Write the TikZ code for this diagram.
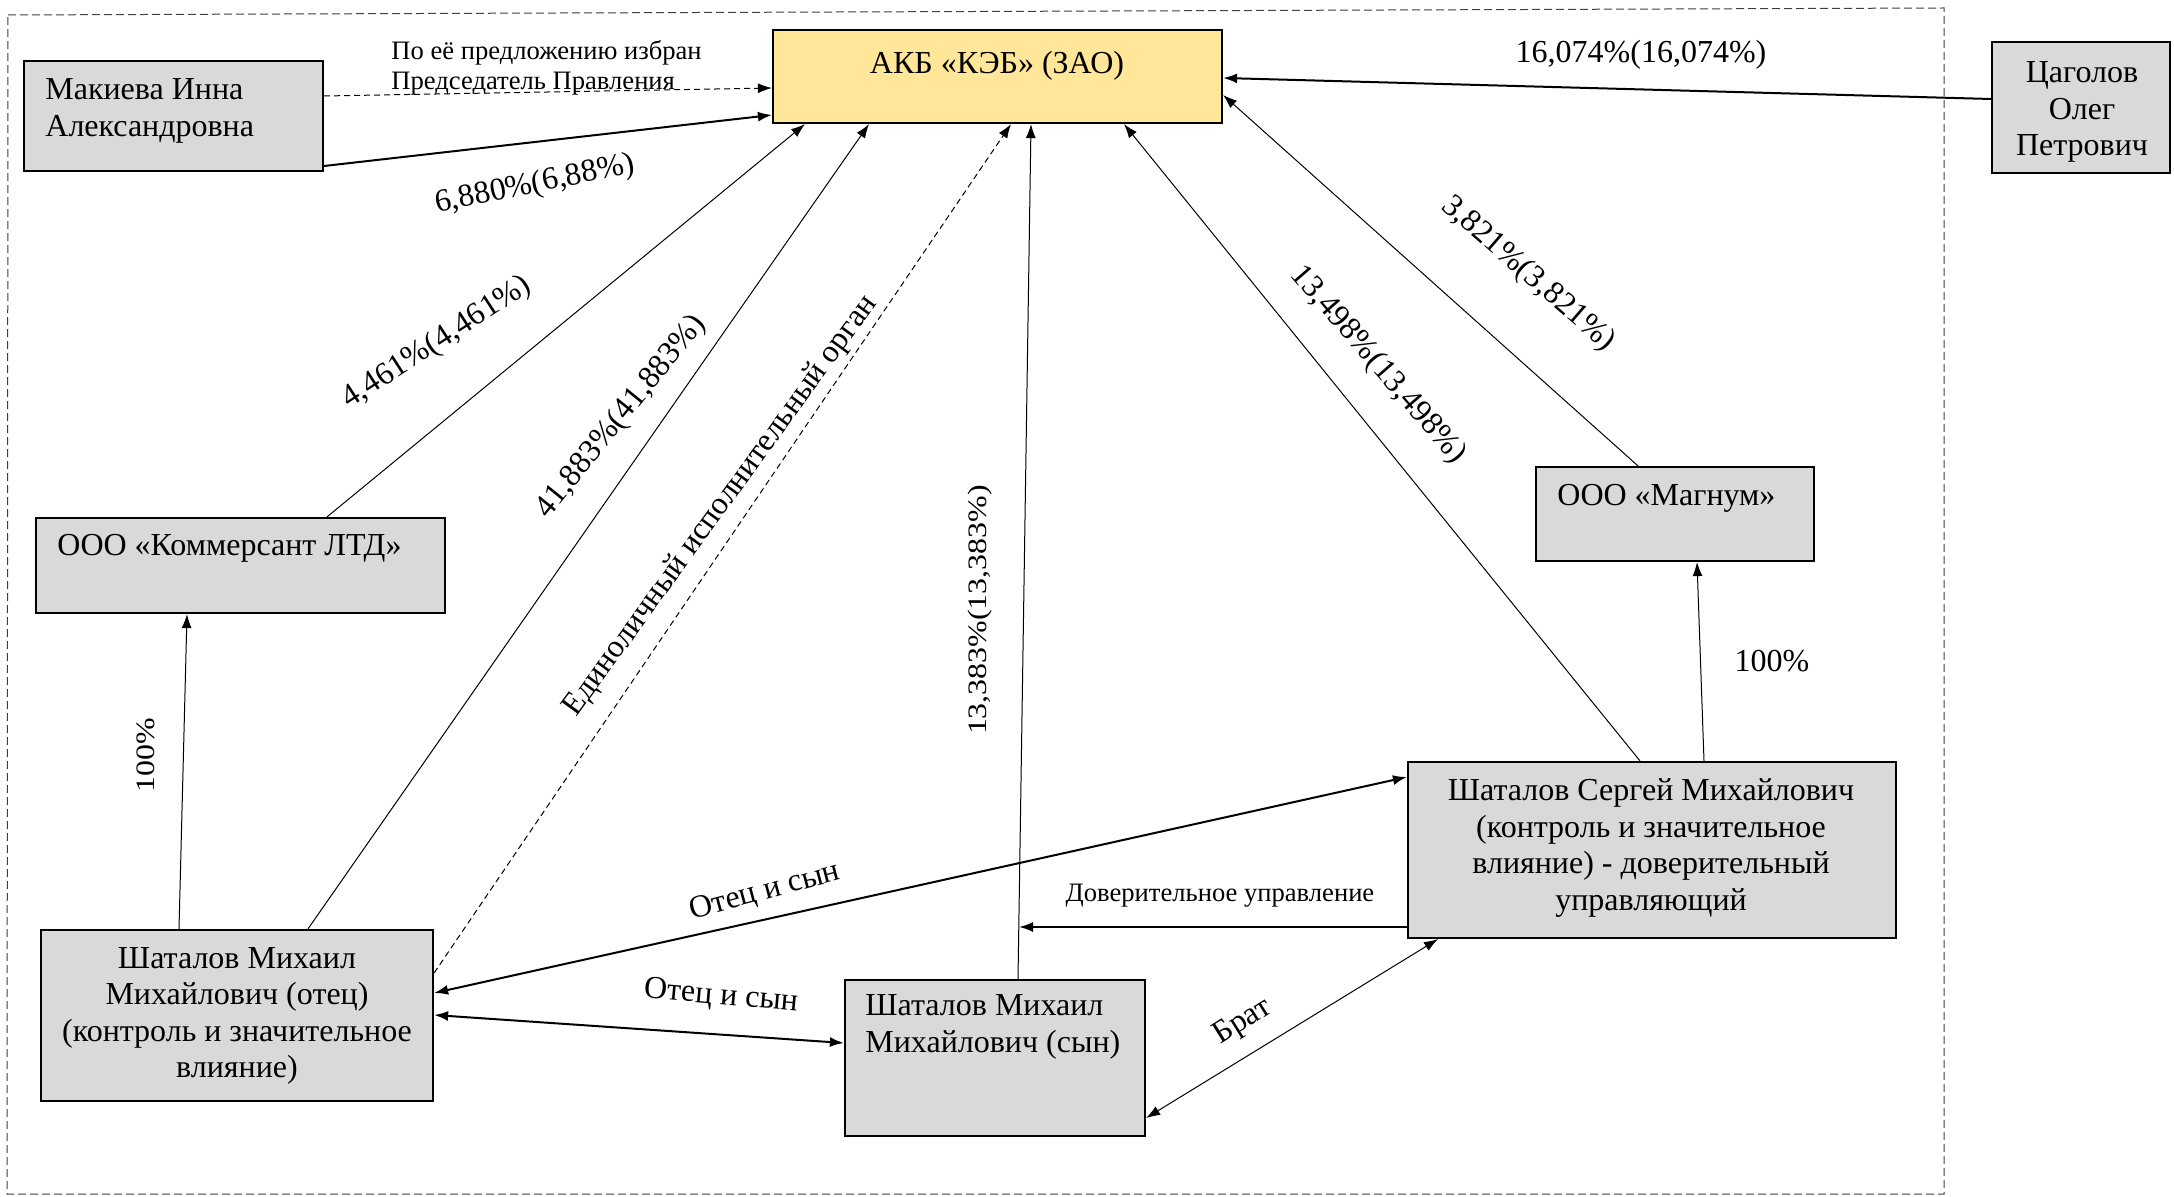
\documentclass[tikz,border=0pt]{standalone}
\usepackage{graphicx}
\usepackage{fontspec}
\newfontfamily\tnr{Liberation Serif}
\usetikzlibrary{arrows.meta,fit}
\definecolor{boxgray}{HTML}{D9D9D9}
\definecolor{akbyellow}{HTML}{FFE699}
\newcommand{\widetxt}[1]{\scalebox{1.2}[1]{\tnr\fontsize{13.3pt}{16pt}\selectfont #1}}
\begin{document}
\begin{tikzpicture}[x=0.5pt,y=-0.5pt,
  box/.style={draw=black, line width=1.1pt, fill=boxgray, inner sep=0pt},
  txt/.style={font=\tnr\fontsize{16pt}{18.3pt}\selectfont, inner sep=0pt},
  small/.style={font=\tnr\fontsize{13.3pt}{15pt}\selectfont, inner sep=0pt},
  thin/.style={line width=0.5pt, -{Latex[length=7pt,width=5pt]}},
  thick/.style={line width=1pt, -{Latex[length=7pt,width=5pt]}},
  both/.style={{Latex[length=7pt,width=5pt]}-{Latex[length=7pt,width=5pt]}},
  dsh/.style={dash pattern=on 3pt off 2pt},
  frame/.style={draw=black!75, line width=0.5pt, dash pattern=on 4pt off 2pt}]
\useasboundingbox (0,0) rectangle (2174,1197);
\fill[white] (0,0) rectangle (2174,1197);

% frame
\draw[frame] (8,15) -- (1944,8) -- (1944,1194) -- (7,1194) -- cycle;

% boxes
\node[box, fit={(24,61) (323,171)}] (mak) {};
\node[box, fill=akbyellow, fit={(773,30) (1222,123)}] (akb) {};
\node[box, fit={(1992,42) (2170,173)}] (tsag) {};
\node[box, fit={(36,518) (445,613)}] (kom) {};
\node[box, fit={(1536,467) (1814,561)}] (mag) {};
\node[box, fit={(41,930) (433,1101)}] (fat) {};
\node[box, fit={(845,980) (1145,1136)}] (son) {};
\node[box, fit={(1408,762) (1896,938)}] (ser) {};

% box texts
\node[txt, anchor=west, align=left] (makt) at (45,111) {Макиева Инна\\Александровна};
\node[txt] (akbt) at (997,66) {АКБ «КЭБ» (ЗАО)};
\node[txt, align=center] (tsagt) at (2082,112) {Цаголов\\Олег\\Петрович};
\node[txt, anchor=west] (komt) at (57,548) {ООО «Коммерсант ЛТД»};
\node[txt, anchor=west] (magt) at (1557,498) {ООО «Магнум»};
\node[txt, align=center] (fatt) at (237,1016) {Шаталов Михаил\\Михайлович (отец)\\(контроль и значительное\\влияние)};
\node[txt, anchor=west, align=left] (sont) at (865,1027) {Шаталов Михаил\\Михайлович (сын)};
\node[txt, align=center] (sert) at (1651,848) {Шаталов Сергей Михайлович\\(контроль и значительное\\влияние) - доверительный\\управляющий};

% connectors
\draw[thin,dsh] (mak.east |- 0,96) -- (akb.west |- 0,88);
\draw[thick] (mak.east |- 0,166) -- (akb.west |- 0,115);
\draw[thick] (tsag.west |- 0,99) -- (akb.east |- 0,78);
\draw[thin] (kom.north -| 327,0) -- (akb.south -| 805,0);
\draw[thin] (fat.north -| 308,0) -- (akb.south -| 869,0);
\draw[thin,dsh] (fat.east |- 0,973) -- (akb.south -| 1011,0);
\draw[thin] (son.north -| 1018,0) -- (akb.south -| 1031,0);
\draw[thin] (ser.north -| 1640,0) -- (akb.south -| 1124,0);
\draw[thin] (mag.north -| 1638,0) -- (akb.east |- 0,95);
\draw[thin] (fat.north -| 179,0) -- (kom.south -| 187,0);
\draw[thin] (ser.north -| 1704,0) -- (mag.south -| 1697,0);
\draw[thick,both] (fat.east |- 0,993) -- (ser.west |- 0,777);
\draw[thick,both] (fat.east |- 0,1015) -- (son.west |- 0,1043);
\coordinate (tm) at (1019,927);
\draw[thick] (ser.west |- 0,927) -- (tm);
\draw[thin,both] (ser.south -| 1438,0) -- (son.east |- 0,1118);

% labels
\node[small, anchor=west, align=left] (lbl1) at (391,68) {По её предложению избран\\Председатель Правления};
\node[txt, rotate=11.5] (lbl2) at (535,185) {6,880\%(6,88\%)};
\node[txt] (lbl3) at (1641,55) {16,074\%(16,074\%)};
\node[txt, rotate=33] (lbl4) at (437,343) {4,461\%(4,461\%)};
\node[txt, rotate=51] (lbl5) at (621,417) {41,883\%(41,883\%)};
\node[txt, rotate=54] (lbl6) at (721,506) {Единоличный исполнительный орган};
\node[inner sep=0pt, rotate=90] (lbl7) at (980,610) {\widetxt{13,383\%(13,383\%)}};
\node[txt, rotate=-49] (lbl8) at (1378,365) {13,498\%(13,498\%)};
\node[txt, rotate=-41] (lbl9) at (1528,274) {3,821\%(3,821\%)};
\node[txt] (lbl10) at (1772,661) {100\%};
\node[inner sep=0pt, rotate=90] (lbl11) at (146,755) {\widetxt{100\%}};
\node[txt, rotate=15] (lbl12) at (765,892) {Отец и сын};
\node[txt, rotate=-5] (lbl13) at (721,997) {Отец и сын};
\node[small] (lbl14) at (1220,896) {Доверительное управление};
\node[txt, rotate=32] (lbl15) at (1243,1022) {Брат};
\end{tikzpicture}
\end{document}
